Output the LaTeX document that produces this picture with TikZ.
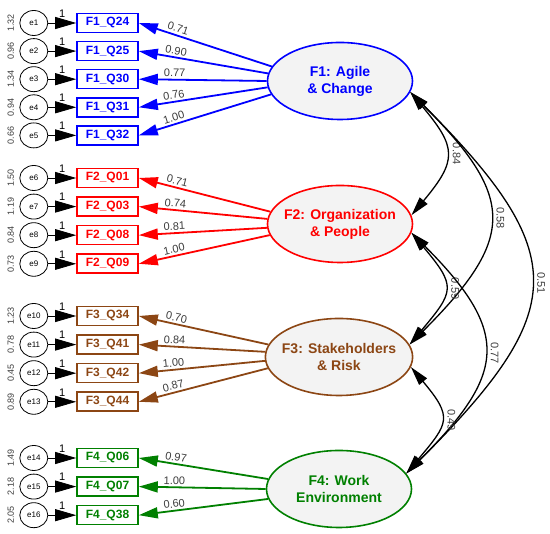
\documentclass[tikz,border=0pt]{standalone}
\usepackage{fontspec}
\setmainfont{Liberation Sans}
\usepackage{xcolor}
\usetikzlibrary{positioning,
	shapes,
	arrows.meta}
\definecolor{fblue}{RGB}{0,0,255}
\definecolor{fred}{RGB}{255,0,0}
\definecolor{fbrown}{RGB}{140,70,20}
\definecolor{fgreen}{RGB}{0,128,0}
\definecolor{latfill}{RGB}{243,243,243}
\definecolor{numgray}{RGB}{60,60,60}
\tikzstyle{obs}=[draw, line width=1.6pt, minimum width=61pt, minimum height=19pt,
		inner sep=0, font=\fontsize{12}{12}\selectfont\bfseries]
\tikzstyle{err}=[draw, ellipse, line width=0.8pt, minimum width=28pt, minimum height=25pt,
		inner sep=0, font=\fontsize{8}{8}\selectfont]
\tikzstyle{lat}=[draw, ellipse, line width=1.6pt, fill=latfill, minimum width=145pt,
		minimum height=77pt, inner xsep=-5pt, inner ysep=0pt, align=center,
		font=\fontsize{14}{17}\selectfont\bfseries]
\tikzstyle{ea}=[-{Triangle[length=21pt,width=12pt]}, line width=0.8pt]
\tikzstyle{ld}=[{Triangle[length=19pt,width=11pt]}-, line width=1.8pt]
\tikzstyle{cv}=[{Triangle[length=19pt,width=10pt]}-{Triangle[length=19pt,width=10pt]}, line width=1.3pt]
\tikzstyle{var}=[rotate=90, text=numgray, font=\fontsize{9}{9}\selectfont]
\tikzstyle{one}=[above=2pt, font=\fontsize{11}{11}\selectfont]
\tikzstyle{lb}=[above, sloped, pos=0.28, inner sep=2pt, text=numgray, font=\fontsize{11}{11}\selectfont]
\tikzstyle{cl}=[midway, xshift=11pt, rotate=-90, anchor=center, inner sep=0pt, text=numgray,
		font=\fontsize{11}{11}\selectfont]

\begin{document}
\begin{tikzpicture}[x=1pt, y=1pt, node distance=7.5pt]
	\useasboundingbox (0,0) rectangle (550,534);
	% latent factors
	\node[lat, draw=fblue, text=fblue] (F1) at (340,453) {F1: Agile\\ \& Change};
	\node[lat, draw=fred, text=fred] (F2) at (340,310) {F2: Organization\\ \& People};
	\node[lat, draw=fbrown, text=fbrown] (F3) at (339,177) {F3: Stakeholders\\ \& Risk};
	\node[lat, draw=fgreen, text=fgreen] (F4) at (339,45) {F4: Work\\ Environment};
	% F1 items
	\node[obs, draw=fblue, text=fblue] (q24) at (107.5,511) {F1\_Q24};
	\node[obs, draw=fblue, text=fblue, below=of q24] (q25) {F1\_Q25};
	\node[obs, draw=fblue, text=fblue, below=of q25] (q30) {F1\_Q30};
	\node[obs, draw=fblue, text=fblue, below=of q30] (q31) {F1\_Q31};
	\node[obs, draw=fblue, text=fblue, below=of q31] (q32) {F1\_Q32};
	% F2 items
	\node[obs, draw=fred, text=fred] (q01) at (107.5,356) {F2\_Q01};
	\node[obs, draw=fred, text=fred, below=8pt of q01] (q03) {F2\_Q03};
	\node[obs, draw=fred, text=fred, below=8pt of q03] (q08) {F2\_Q08};
	\node[obs, draw=fred, text=fred, below=8pt of q08] (q09) {F2\_Q09};
	% F3 items
	\node[obs, draw=fbrown, text=fbrown] (q34) at (107.5,218) {F3\_Q34};
	\node[obs, draw=fbrown, text=fbrown, below=8pt of q34] (q41) {F3\_Q41};
	\node[obs, draw=fbrown, text=fbrown, below=8pt of q41] (q42) {F3\_Q42};
	\node[obs, draw=fbrown, text=fbrown, below=8pt of q42] (q44) {F3\_Q44};
	% F4 items
	\node[obs, draw=fgreen, text=fgreen] (q06) at (107.5,76) {F4\_Q06};
	\node[obs, draw=fgreen, text=fgreen, below=8pt of q06] (q07) {F4\_Q07};
	\node[obs, draw=fgreen, text=fgreen, below=8pt of q07] (q38) {F4\_Q38};
	% errors
	\node[err, left=28pt of q24] (e1) {e1};
	\node[err, left=28pt of q25] (e2) {e2};
	\node[err, left=28pt of q30] (e3) {e3};
	\node[err, left=28pt of q31] (e4) {e4};
	\node[err, left=28pt of q32] (e5) {e5};
	\node[err, left=28pt of q01] (e6) {e6};
	\node[err, left=28pt of q03] (e7) {e7};
	\node[err, left=28pt of q08] (e8) {e8};
	\node[err, left=28pt of q09] (e9) {e9};
	\node[err, left=28pt of q34] (e10) {e10};
	\node[err, left=28pt of q41] (e11) {e11};
	\node[err, left=28pt of q42] (e12) {e12};
	\node[err, left=28pt of q44] (e13) {e13};
	\node[err, left=28pt of q06] (e14) {e14};
	\node[err, left=28pt of q07] (e15) {e15};
	\node[err, left=28pt of q38] (e16) {e16};
	% error variances
	\node[var] (v1) at ([xshift=-23pt]e1.center) {1.32};
	\node[var] (v2) at ([xshift=-23pt]e2.center) {0.96};
	\node[var] (v3) at ([xshift=-23pt]e3.center) {1.34};
	\node[var] (v4) at ([xshift=-23pt]e4.center) {0.94};
	\node[var] (v5) at ([xshift=-23pt]e5.center) {0.66};
	\node[var] (v6) at ([xshift=-23pt]e6.center) {1.50};
	\node[var] (v7) at ([xshift=-23pt]e7.center) {1.19};
	\node[var] (v8) at ([xshift=-23pt]e8.center) {0.84};
	\node[var] (v9) at ([xshift=-23pt]e9.center) {0.73};
	\node[var] (v10) at ([xshift=-23pt]e10.center) {1.23};
	\node[var] (v11) at ([xshift=-23pt]e11.center) {0.78};
	\node[var] (v12) at ([xshift=-23pt]e12.center) {0.45};
	\node[var] (v13) at ([xshift=-23pt]e13.center) {0.89};
	\node[var] (v14) at ([xshift=-23pt]e14.center) {1.49};
	\node[var] (v15) at ([xshift=-23pt]e15.center) {2.18};
	\node[var] (v16) at ([xshift=-23pt]e16.center) {2.05};
	% error paths
	\draw[ea] (e1) -- node[one] {1} (q24);
	\draw[ea] (e2) -- node[one] {1} (q25);
	\draw[ea] (e3) -- node[one] {1} (q30);
	\draw[ea] (e4) -- node[one] {1} (q31);
	\draw[ea] (e5) -- node[one] {1} (q32);
	\draw[ea] (e6) -- node[one] {1} (q01);
	\draw[ea] (e7) -- node[one] {1} (q03);
	\draw[ea] (e8) -- node[one] {1} (q08);
	\draw[ea] (e9) -- node[one] {1} (q09);
	\draw[ea] (e10) -- node[one] {1} (q34);
	\draw[ea] (e11) -- node[one] {1} (q41);
	\draw[ea] (e12) -- node[one] {1} (q42);
	\draw[ea] (e13) -- node[one] {1} (q44);
	\draw[ea] (e14) -- node[one] {1} (q06);
	\draw[ea] (e15) -- node[one] {1} (q07);
	\draw[ea] (e16) -- node[one] {1} (q38);
	% loadings
	\draw[ld, fblue] (q24.east) -- node[lb] {0.71} (F1.168);
	\draw[ld, fblue] (q25.east) -- node[lb] {0.90} (F1.174);
	\draw[ld, fblue] (q30.east) -- node[lb] {0.77} (F1.180);
	\draw[ld, fblue] (q31.east) -- node[lb] {0.76} (F1.185);
	\draw[ld, fblue] (q32.east) -- node[lb] {1.00} (F1.191);
	\draw[ld, fred] (q01.east) -- node[lb] {0.71} (F2.170);
	\draw[ld, fred] (q03.east) -- node[lb] {0.74} (F2.176);
	\draw[ld, fred] (q08.east) -- node[lb] {0.81} (F2.183);
	\draw[ld, fred] (q09.east) -- node[lb] {1.00} (F2.189);
	\draw[ld, fbrown] (q34.east) -- node[lb] {0.70} (F3.170);
	\draw[ld, fbrown] (q41.east) -- node[lb] {0.84} (F3.176);
	\draw[ld, fbrown] (q42.east) -- node[lb] {1.00} (F3.183);
	\draw[ld, fbrown] (q44.east) -- node[lb] {0.87} (F3.189);
	\draw[ld, fgreen] (q06.east) -- node[lb] {0.97} (F4.172);
	\draw[ld, fgreen] (q07.east) -- node[lb] {1.00} (F4.180);
	\draw[ld, fgreen] (q38.east) -- node[lb] {0.60} (F4.188);
	% covariances
	\draw[cv] (F1.-9) .. controls +(-50:72) and +(50:72) .. node[cl] {0.84} (F2.7);
	\draw[cv] (F1.-9) .. controls +(-45:150) and +(45:150) .. node[cl] {0.58} (F3.10);
	\draw[cv] (F1.-9) .. controls +(-45:230) and +(45:230) .. node[cl] {0.51} (F4.13);
	\draw[cv] (F2.-7) .. controls +(-50:70) and +(50:70) .. node[cl] {0.59} (F3.10);
	\draw[cv] (F2.-7) .. controls +(-45:141) and +(45:141) .. node[cl] {0.77} (F4.13);
	\draw[cv] (F3.-8) .. controls +(-50:66) and +(50:66) .. node[cl] {0.49} (F4.13);
\end{tikzpicture}
\end{document}
